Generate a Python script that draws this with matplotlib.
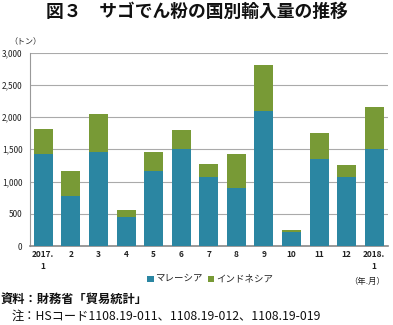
import matplotlib
matplotlib.use("Agg")
import matplotlib.pyplot as plt
from matplotlib.patches import Rectangle

plt.rcParams['font.family'] = ['Noto Sans CJK JP', 'DejaVu Sans']

categories = ["2017.\n1", "2", "3", "4", "5", "6", "7", "8", "9", "10", "11", "12", "2018.\n1"]
malaysia = [1428, 781, 1464, 455, 1164, 1505, 1076, 905, 2100, 222, 1355, 1076, 1505]
indonesia_total = [1811, 1159, 2043, 559, 1454, 1800, 1273, 1433, 2809, 248, 1759, 1262, 2157]
indonesia = [t - m for t, m in zip(indonesia_total, malaysia)]
yticks = [0, 500, 1000, 1500, 2000, 2500, 3000]
ytick_labels = ["0", "500", "1,000", "1,500", "2,000", "2,500", "3,000"]

c_my = "#2b86a2"
c_id = "#789a36"

W, H = 393, 325
fig = plt.figure(figsize=(W / 100, H / 100), dpi=100)
ax = fig.add_axes([29.5 / W, 1 - 246 / H, 358.5 / W, (246 - 52.5) / H])

x = range(len(categories))
ax.bar(x, malaysia, width=0.69, color=c_my, zorder=3)
ax.bar(x, indonesia, width=0.69, bottom=malaysia, color=c_id, zorder=3)

ax.set_xlim(-0.5, len(categories) - 0.5)
ax.set_ylim(0, 3000)
ax.set_yticks(yticks)
ax.set_yticklabels(ytick_labels, fontsize=6, color="#222222")
ax.set_xticks(list(x))
ax.set_xticklabels(categories, fontsize=6, color="#222222", fontweight="bold", linespacing=1.4)
ax.tick_params(axis='both', length=0, pad=3)
ax.tick_params(axis='y', pad=5)
ax.yaxis.grid(True, color="#aaaaaa", linewidth=0.8, zorder=0)
for s in ["top", "right"]:
    ax.spines[s].set_visible(False)
ax.spines["left"].set_color("#999999")
ax.spines["left"].set_linewidth(0.8)
ax.spines["bottom"].set_color("#888888")
ax.spines["bottom"].set_linewidth(1.2)

def fx(px):
    return px / W

def fy(py):
    return 1 - py / H

fig.text(fx(196.5), fy(12), "図３　サゴでん粉の国別輸入量の推移", ha="center", va="center",
         fontsize=12.8, fontweight="bold", color="#111111")
fig.text(fx(9), fy(42), "（トン）", ha="left", va="center", fontsize=5.8, color="#222222")
fig.text(fx(367), fy(281), "（年.月）", ha="center", va="center", fontsize=6, color="#222222")

# legend
fig.patches.append(Rectangle((fx(147), fy(282)), 6.5 / W, 6.5 / H, transform=fig.transFigure,
                             facecolor=c_my, edgecolor="none"))
fig.text(fx(155), fy(278.5), "マレーシア", ha="left", va="center", fontsize=6.8, color="#222222")
fig.patches.append(Rectangle((fx(208), fy(282)), 6.5 / W, 6.5 / H, transform=fig.transFigure,
                             facecolor=c_id, edgecolor="none"))
fig.text(fx(216), fy(278.5), "インドネシア", ha="left", va="center", fontsize=6.8, color="#222222")

fig.text(fx(1), fy(299), "資料：財務省「貿易統計」", ha="left", va="center", fontsize=8.8,
         fontweight="bold", color="#111111")
fig.text(fx(12), fy(316), "注：HSコード1108.19-011、1108.19-012、1108.19-019", ha="left", va="center",
         fontsize=8.8, color="#111111")

fig.savefig("out.png", dpi=100)
